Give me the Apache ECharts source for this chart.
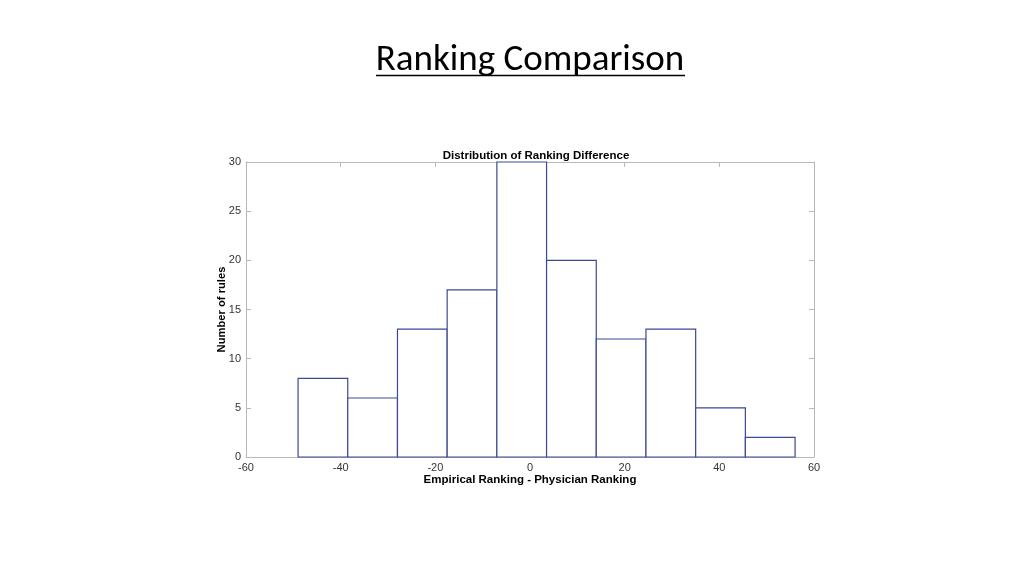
<!DOCTYPE html>
<html>
<head>
<meta charset="utf-8">
<script src="https://cdn.jsdelivr.net/npm/echarts@6/dist/echarts.min.js"></script>
<style>html,body{margin:0;padding:0;background:#fff}#c{width:1024px;height:576px}</style>
</head>
<body>
<div id="c"></div>
<script>
var binEdges = [-49, -38.5, -28, -17.5, -7, 3.5, 14, 24.5, 35, 45.5, 56];
var counts = [8, 6, 13, 17, 30, 20, 12, 13, 5, 2];
var xTicks = [-60, -40, -20, 0, 20, 40, 60];
var yTicks = [0, 5, 10, 15, 20, 25, 30];

var data = counts.map(function (c, i) { return [binEdges[i], binEdges[i + 1], c]; });
var chart = echarts.init(document.getElementById('c'));
var axisGray = '#b8b8b8';
var ff = 'Liberation Sans, Arial, sans-serif';
var tickFont = { color: '#333', fontSize: 11, fontFamily: ff };
function frameAxis(extra) {
  return Object.assign({
    type: 'value',
    axisLine: { show: true, onZero: false, lineStyle: { color: axisGray } },
    axisTick: { show: true, inside: true, length: 5, lineStyle: { color: axisGray } },
    splitLine: { show: false }
  }, extra);
}
chart.setOption({
  animation: false,
  title: [{
    text: 'Ranking Comparison',
    left: 525, textAlign: 'center', top: 37,
    textStyle: { fontFamily: 'Carlito, Lato, sans-serif', fontWeight: 'normal', fontSize: 37, color: '#000' }
  }, {
    text: 'Distribution of Ranking Difference',
    left: 531, textAlign: 'center', top: 145,
    textStyle: { fontFamily: ff, fontWeight: 'bold', fontSize: 11.5, color: '#000' }
  }],
  graphic: [{
    type: 'line', shape: { x1: 376, y1: 75.5, x2: 685, y2: 75.5 },
    style: { stroke: '#000', lineWidth: 1.6 }
  }],
  grid: { left: 246, right: 210, top: 162, bottom: 119 },
  xAxis: [frameAxis({
    min: -60, max: 60, interval: 20,
    axisLabel: Object.assign({ margin: 5 }, tickFont),
    name: 'Empirical Ranking - Physician Ranking', nameLocation: 'middle', nameGap: 17,
    nameMoveOverlap: false,
    nameTextStyle: { fontWeight: 'bold', fontSize: 11.5, color: '#000', fontFamily: ff }
  }), frameAxis({
    position: 'top', min: -60, max: 60, interval: 20,
    axisLabel: { show: false }
  })],
  yAxis: [frameAxis({
    min: 0, max: 30, interval: 5,
    axisLabel: Object.assign({ margin: 5 }, tickFont),
    name: 'Number of rules', nameLocation: 'middle', nameGap: 19,
    nameMoveOverlap: false,
    nameTextStyle: { fontWeight: 'bold', fontSize: 11.2, color: '#000', fontFamily: ff }
  }), frameAxis({
    position: 'right', min: 0, max: 30, interval: 5,
    axisLabel: { show: false }
  })],
  series: [{
    type: 'custom',
    xAxisIndex: 0, yAxisIndex: 0,
    data: data,
    encode: { x: [0, 1], y: 2 },
    renderItem: function (params, api) {
      var p0 = api.coord([api.value(0), 0]);
      var p1 = api.coord([api.value(1), api.value(2)]);
      return {
        type: 'rect',
        shape: { x: p0[0], y: p1[1], width: p1[0] - p0[0], height: p0[1] - p1[1] },
        style: { fill: '#ffffff', stroke: '#3a4a94', lineWidth: 1.2 }
      };
    }
  }]
});
</script>
</body>
</html>
